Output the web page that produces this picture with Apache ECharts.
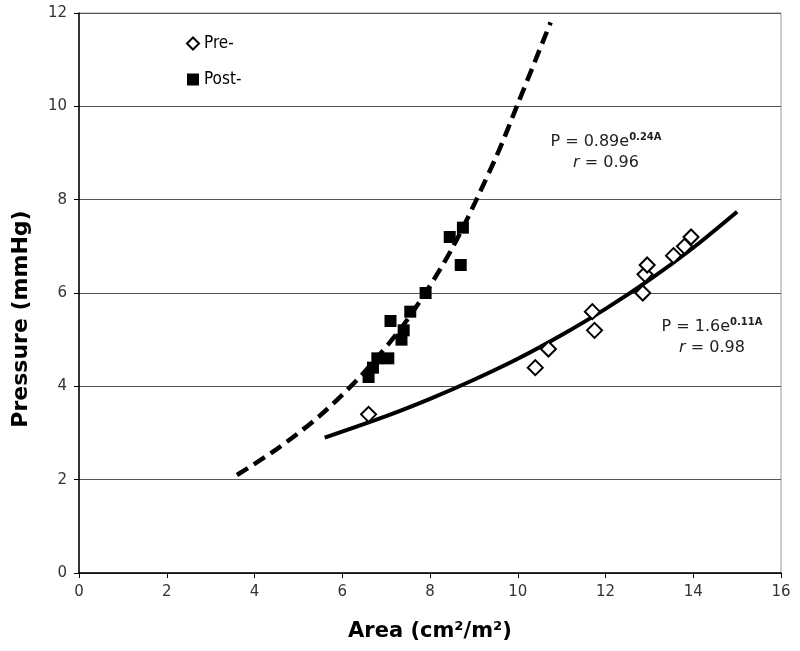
<!DOCTYPE html>
<html>
<head>
<meta charset="utf-8">
<script src="https://cdn.jsdelivr.net/npm/echarts@6/dist/echarts.min.js"></script>
<style>
  html, body { margin: 0; padding: 0; background: #fff; }
  #chart { width: 800px; height: 651px; }
</style>
</head>
<body>
<div id="chart"></div>
<script>
// measured points
const preArea = [6.6, 10.4, 10.7, 11.7, 11.75, 12.85, 12.9, 12.95, 13.55, 13.8, 13.95];
const prePressure = [3.4, 4.4, 4.8, 5.6, 5.2, 6.0, 6.4, 6.6, 6.8, 7.0, 7.2];
const postArea = [6.6, 6.7, 6.8, 7.05, 7.1, 7.35, 7.4, 7.55, 7.9, 8.45, 8.7, 8.75];
const postPressure = [4.2, 4.4, 4.6, 4.6, 5.4, 5.0, 5.2, 5.6, 6.0, 7.2, 6.6, 7.4];

// fitted curves
const preFitArea = [5.6, 7, 8, 9, 10, 11, 12, 13, 14, 15];
const preFitPressure = [2.9, 3.36, 3.73, 4.14, 4.59, 5.1, 5.66, 6.28, 6.97, 7.74];
const postFitArea = [3.6, 4.5, 5.5, 6.5, 7.5, 8.5, 9.5, 10.0, 10.75];
const postFitPressure = [2.1, 2.65, 3.38, 4.3, 5.45, 6.95, 8.9, 10.05, 11.8];

const xTicks = [0, 2, 4, 6, 8, 10, 12, 14, 16];
const yTicks = [0, 2, 4, 6, 8, 10, 12];

const zip = (xs, ys) => xs.map((x, i) => [x, ys[i]]);

const chart = echarts.init(document.getElementById('chart'), null, { renderer: 'canvas' });

const tickFont = { color: '#333', fontSize: 15, fontFamily: 'DejaVu Sans' };
const nameFont = { color: '#000', fontWeight: 'bold', fontFamily: 'DejaVu Sans' };

const eqRich = {
  a: { fontSize: 16, fontFamily: 'DejaVu Sans', fill: '#222', lineHeight: 21 },
  i: { fontSize: 16, fontFamily: 'DejaVu Sans', fontStyle: 'italic', fill: '#222', lineHeight: 21 },
  s: { fontSize: 10, fontFamily: 'DejaVu Sans', fontWeight: 'bold', fill: '#222', lineHeight: 21, padding: [0, 0, 8, 0] },
};

chart.setOption({
  backgroundColor: '#fff',
  animation: false,
  grid: { left: 79, right: 19, top: 13, bottom: 78, show: true, borderColor: '#999', borderWidth: 1 },
  legend: {
    orient: 'vertical',
    left: 181, top: 30,
    itemWidth: 12, itemHeight: 12, itemGap: 19,
    textStyle: { color: '#000', fontSize: 17, fontFamily: 'DejaVu Sans Condensed' },
    data: [
      { name: 'Pre-', icon: 'diamond', itemStyle: { color: '#fff', borderColor: '#000', borderWidth: 2 } },
      { name: 'Post-', icon: 'rect', itemStyle: { color: '#000' } },
    ],
  },
  xAxis: {
    type: 'value',
    min: xTicks[0], max: xTicks[xTicks.length - 1], interval: 2,
    name: 'Area (cm²/m²)', nameLocation: 'middle', nameGap: 48,
    nameTextStyle: { ...nameFont, fontSize: 21 },
    axisLine: { lineStyle: { color: '#000', width: 1.5 } },
    axisTick: { show: true, length: 5, lineStyle: { color: '#000' } },
    axisLabel: { ...tickFont, margin: 12 },
    splitLine: { show: false },
  },
  yAxis: {
    type: 'value',
    min: yTicks[0], max: yTicks[yTicks.length - 1], interval: 2,
    name: 'Pressure (mmHg)', nameLocation: 'middle', nameGap: 47,
    nameTextStyle: { ...nameFont, fontSize: 22, padding: [0, 52, 0, 0] },
    axisLine: { show: true, lineStyle: { color: '#000', width: 1.5 } },
    axisTick: { show: true, length: 5, lineStyle: { color: '#000' } },
    axisLabel: { ...tickFont, margin: 12 },
    splitLine: { show: true, lineStyle: { color: '#555', width: 1.2 } },
  },
  series: [
    {
      name: 'Pre- fit', type: 'line', smooth: 0.3, showSymbol: false, z: 2,
      data: zip(preFitArea, preFitPressure),
      lineStyle: { color: '#000', width: 4 },
    },
    {
      name: 'Post- fit', type: 'line', smooth: 0.3, showSymbol: false, z: 2,
      data: zip(postFitArea, postFitPressure),
      lineStyle: { color: '#000', width: 4.5, type: [13, 7] },
    },
    {
      name: 'Pre-', type: 'scatter', symbol: 'diamond', symbolSize: 15, z: 3,
      data: zip(preArea, prePressure),
      itemStyle: { color: '#fff', borderColor: '#000', borderWidth: 2, opacity: 1 },
    },
    {
      name: 'Post-', type: 'scatter', symbol: 'rect', symbolSize: 12, z: 3,
      data: zip(postArea, postPressure),
      itemStyle: { color: '#000', opacity: 1 },
    },
  ],
  graphic: [
    {
      type: 'text', x: 606, y: 152,
      style: { text: '{a|P = 0.89e}{s|0.24A}\n{i|r}{a| = 0.96}', align: 'center', verticalAlign: 'middle', rich: eqRich },
    },
    {
      type: 'text', x: 712, y: 337,
      style: { text: '{a|P = 1.6e}{s|0.11A}\n{i|r}{a| = 0.98}', align: 'center', verticalAlign: 'middle', rich: eqRich },
    },
  ],
});
</script>
</body>
</html>
